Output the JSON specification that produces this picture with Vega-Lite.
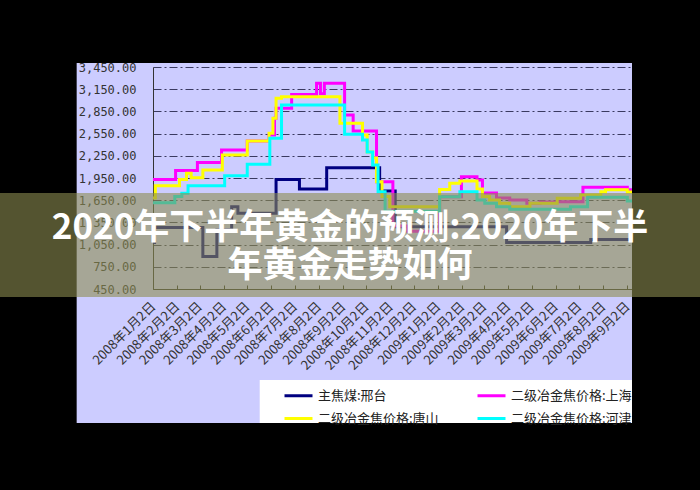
{
  "$schema": "https://vega.github.io/schema/vega-lite/v6.json",
  "width": 479,
  "height": 222,
  "autosize": {"type": "none"},
  "padding": {"left": 153, "top": 67, "right": 68, "bottom": 201},
  "background": "#CCCCFF",
  "config": {"view": {"stroke": null}, "font": "Noto Sans CJK SC"},
  "datasets": {
    "prices": [
      {"date": "2008-01-02", "series": "主焦煤:邢台", "price": 1080},
      {"date": "2008-01-04", "series": "主焦煤:邢台", "price": 1280},
      {"date": "2008-03-06", "series": "主焦煤:邢台", "price": 890},
      {"date": "2008-03-24", "series": "主焦煤:邢台", "price": 1250},
      {"date": "2008-04-12", "series": "主焦煤:邢台", "price": 1560},
      {"date": "2008-04-20", "series": "主焦煤:邢台", "price": 1475},
      {"date": "2008-06-08", "series": "主焦煤:邢台", "price": 1930},
      {"date": "2008-07-08", "series": "主焦煤:邢台", "price": 1800},
      {"date": "2008-08-12", "series": "主焦煤:邢台", "price": 2090},
      {"date": "2008-10-19", "series": "主焦煤:邢台", "price": 1775},
      {"date": "2008-11-08", "series": "主焦煤:邢台", "price": 1290},
      {"date": "2009-03-31", "series": "主焦煤:邢台", "price": 1080},
      {"date": "2009-07-17", "series": "主焦煤:邢台", "price": 1120},
      {"date": "2009-09-08", "series": "主焦煤:邢台", "price": 1120},

      {"date": "2008-01-02", "series": "二级冶金焦价格:上海", "price": 1930},
      {"date": "2008-01-31", "series": "二级冶金焦价格:上海", "price": 2050},
      {"date": "2008-02-28", "series": "二级冶金焦价格:上海", "price": 2160},
      {"date": "2008-03-30", "series": "二级冶金焦价格:上海", "price": 2330},
      {"date": "2008-05-02", "series": "二级冶金焦价格:上海", "price": 2450},
      {"date": "2008-05-30", "series": "二级冶金焦价格:上海", "price": 2530},
      {"date": "2008-06-06", "series": "二级冶金焦价格:上海", "price": 2756},
      {"date": "2008-06-08", "series": "二级冶金焦价格:上海", "price": 2891},
      {"date": "2008-06-28", "series": "二级冶金焦价格:上海", "price": 3080},
      {"date": "2008-07-30", "series": "二级冶金焦价格:上海", "price": 3229},
      {"date": "2008-08-04", "series": "二级冶金焦价格:上海", "price": 3090},
      {"date": "2008-08-09", "series": "二级冶金焦价格:上海", "price": 3229},
      {"date": "2008-09-04", "series": "二级冶金焦价格:上海", "price": 2801},
      {"date": "2008-09-15", "series": "二级冶金焦价格:上海", "price": 2585},
      {"date": "2008-10-15", "series": "二级冶金焦价格:上海", "price": 1900},
      {"date": "2008-11-05", "series": "二级冶金焦价格:上海", "price": 1300},
      {"date": "2008-11-24", "series": "二级冶金焦价格:上海", "price": 1230},
      {"date": "2009-01-04", "series": "二级冶金焦价格:上海", "price": 1697},
      {"date": "2009-02-01", "series": "二级冶金焦价格:上海", "price": 1968},
      {"date": "2009-02-21", "series": "二级冶金焦价格:上海", "price": 1923},
      {"date": "2009-02-28", "series": "二级冶金焦价格:上海", "price": 1747},
      {"date": "2009-03-18", "series": "二级冶金焦价格:上海", "price": 1680},
      {"date": "2009-04-04", "series": "二级冶金焦价格:上海", "price": 1653},
      {"date": "2009-04-26", "series": "二级冶金焦价格:上海", "price": 1610},
      {"date": "2009-05-13", "series": "二级冶金焦价格:上海", "price": 1625},
      {"date": "2009-06-04", "series": "二级冶金焦价格:上海", "price": 1630},
      {"date": "2009-07-07", "series": "二级冶金焦价格:上海", "price": 1824},
      {"date": "2009-09-02", "series": "二级冶金焦价格:上海", "price": 1790},
      {"date": "2009-09-08", "series": "二级冶金焦价格:上海", "price": 1790},

      {"date": "2008-01-02", "series": "二级冶金焦价格:唐山", "price": 1680},
      {"date": "2008-01-05", "series": "二级冶金焦价格:唐山", "price": 1845},
      {"date": "2008-02-05", "series": "二级冶金焦价格:唐山", "price": 1930},
      {"date": "2008-02-14", "series": "二级冶金焦价格:唐山", "price": 2013},
      {"date": "2008-02-20", "series": "二级冶金焦价格:唐山", "price": 1954},
      {"date": "2008-03-06", "series": "二级冶金焦价格:唐山", "price": 2058},
      {"date": "2008-03-31", "series": "二级冶金焦价格:唐山", "price": 2260},
      {"date": "2008-05-02", "series": "二级冶金焦价格:唐山", "price": 2450},
      {"date": "2008-05-30", "series": "二级冶金焦价格:唐山", "price": 2554},
      {"date": "2008-06-04", "series": "二级冶金焦价格:唐山", "price": 2757},
      {"date": "2008-06-08", "series": "二级冶金焦价格:唐山", "price": 3027},
      {"date": "2008-06-15", "series": "二级冶金焦价格:唐山", "price": 3048},
      {"date": "2008-08-29", "series": "二级冶金焦价格:唐山", "price": 2689},
      {"date": "2008-09-27", "series": "二级冶金焦价格:唐山", "price": 2530},
      {"date": "2008-10-03", "series": "二级冶金焦价格:唐山", "price": 2300},
      {"date": "2008-10-10", "series": "二级冶金焦价格:唐山", "price": 2220},
      {"date": "2008-10-15", "series": "二级冶金焦价格:唐山", "price": 1900},
      {"date": "2008-10-22", "series": "二级冶金焦价格:唐山", "price": 1700},
      {"date": "2008-11-01", "series": "二级冶金焦价格:唐山", "price": 1560},
      {"date": "2009-01-04", "series": "二级冶金焦价格:唐山", "price": 1795},
      {"date": "2009-01-17", "series": "二级冶金焦价格:唐山", "price": 1878},
      {"date": "2009-01-30", "series": "二级冶金焦价格:唐山", "price": 1910},
      {"date": "2009-02-21", "series": "二级冶金焦价格:唐山", "price": 1800},
      {"date": "2009-02-28", "series": "二级冶金焦价格:唐山", "price": 1700},
      {"date": "2009-03-09", "series": "二级冶金焦价格:唐山", "price": 1653},
      {"date": "2009-03-22", "series": "二级冶金焦价格:唐山", "price": 1610},
      {"date": "2009-04-04", "series": "二级冶金焦价格:唐山", "price": 1563},
      {"date": "2009-04-30", "series": "二级冶金焦价格:唐山", "price": 1610},
      {"date": "2009-06-04", "series": "二级冶金焦价格:唐山", "price": 1676},
      {"date": "2009-07-04", "series": "二级冶金焦价格:唐山", "price": 1720},
      {"date": "2009-07-30", "series": "二级冶金焦价格:唐山", "price": 1765},
      {"date": "2009-08-05", "series": "二级冶金焦价格:唐山", "price": 1790},
      {"date": "2009-09-02", "series": "二级冶金焦价格:唐山", "price": 1760},
      {"date": "2009-09-08", "series": "二级冶金焦价格:唐山", "price": 1760},

      {"date": "2008-01-02", "series": "二级冶金焦价格:河津", "price": 1616},
      {"date": "2008-01-30", "series": "二级冶金焦价格:河津", "price": 1700},
      {"date": "2008-02-08", "series": "二级冶金焦价格:河津", "price": 1745},
      {"date": "2008-02-16", "series": "二级冶金焦价格:河津", "price": 1845},
      {"date": "2008-04-03", "series": "二级冶金焦价格:河津", "price": 1980},
      {"date": "2008-05-02", "series": "二级冶金焦价格:河津", "price": 2135},
      {"date": "2008-05-31", "series": "二级冶金焦价格:河津", "price": 2486},
      {"date": "2008-06-15", "series": "二级冶金焦价格:河津", "price": 2936},
      {"date": "2008-09-04", "series": "二级冶金焦价格:河津", "price": 2540},
      {"date": "2008-09-27", "series": "二级冶金焦价格:河津", "price": 2463},
      {"date": "2008-10-03", "series": "二级冶金焦价格:河津", "price": 2300},
      {"date": "2008-10-10", "series": "二级冶金焦价格:河津", "price": 2125},
      {"date": "2008-10-17", "series": "二级冶金焦价格:河津", "price": 1765},
      {"date": "2008-10-26", "series": "二级冶金焦价格:河津", "price": 1500},
      {"date": "2009-01-04", "series": "二级冶金焦价格:河津", "price": 1697},
      {"date": "2009-01-30", "series": "二级冶金焦价格:河津", "price": 1765},
      {"date": "2009-02-21", "series": "二级冶金焦价格:河津", "price": 1653},
      {"date": "2009-03-03", "series": "二级冶金焦价格:河津", "price": 1610},
      {"date": "2009-03-18", "series": "二级冶金焦价格:河津", "price": 1560},
      {"date": "2009-04-04", "series": "二级冶金焦价格:河津", "price": 1527},
      {"date": "2009-06-21", "series": "二级冶金焦价格:河津", "price": 1563},
      {"date": "2009-07-13", "series": "二级冶金焦价格:河津", "price": 1690},
      {"date": "2009-09-02", "series": "二级冶金焦价格:河津", "price": 1640},
      {"date": "2009-09-08", "series": "二级冶金焦价格:河津", "price": 1640}
    ]
  },
  "layer": [
    {
      "data": {"name": "prices"},
      "mark": {"type": "line", "interpolate": "step-after", "strokeWidth": 3},
      "encoding": {
        "x": {
          "field": "date",
          "type": "temporal",
          "scale": {
            "type": "utc",
            "domain": [
              {"year": 2008, "month": 1, "date": 2, "utc": true},
              {"year": 2009, "month": 9, "date": 8, "utc": true}
            ]
          },
          "axis": {
            "title": null,
            "grid": false,
            "tickCount": 30,
            "values": [
              {"year": 2008, "month": 1, "date": 2, "utc": true},
              {"year": 2008, "month": 2, "date": 2, "utc": true},
              {"year": 2008, "month": 3, "date": 2, "utc": true},
              {"year": 2008, "month": 4, "date": 2, "utc": true},
              {"year": 2008, "month": 5, "date": 2, "utc": true},
              {"year": 2008, "month": 6, "date": 2, "utc": true},
              {"year": 2008, "month": 7, "date": 2, "utc": true},
              {"year": 2008, "month": 8, "date": 2, "utc": true},
              {"year": 2008, "month": 9, "date": 2, "utc": true},
              {"year": 2008, "month": 10, "date": 2, "utc": true},
              {"year": 2008, "month": 11, "date": 2, "utc": true},
              {"year": 2008, "month": 12, "date": 2, "utc": true},
              {"year": 2009, "month": 1, "date": 2, "utc": true},
              {"year": 2009, "month": 2, "date": 2, "utc": true},
              {"year": 2009, "month": 3, "date": 2, "utc": true},
              {"year": 2009, "month": 4, "date": 2, "utc": true},
              {"year": 2009, "month": 5, "date": 2, "utc": true},
              {"year": 2009, "month": 6, "date": 2, "utc": true},
              {"year": 2009, "month": 7, "date": 2, "utc": true},
              {"year": 2009, "month": 8, "date": 2, "utc": true},
              {"year": 2009, "month": 9, "date": 2, "utc": true}
            ],
            "labelExpr": "utcFormat(datum.value, '%Y年%-m月%-d日')",
            "labelAngle": -45,
            "labelAlign": "right",
            "labelBaseline": "middle",
            "labelFont": "Noto Sans CJK SC",
            "labelFontSize": 13,
            "labelColor": "#333333",
            "labelPadding": 19,
            "labelOverlap": false,
            "labelBound": false,
            "labelFlush": false,
            "tickSize": -4,
            "tickColor": "#333333",
            "domainColor": "#333333",
            "domainWidth": 1
          }
        },
        "y": {
          "field": "price",
          "type": "quantitative",
          "scale": {"domain": [450, 3450], "nice": false, "zero": false},
          "axis": {
            "title": null,
            "tickCount": 20,
            "values": [450, 750, 1050, 1350, 1650, 1950, 2250, 2550, 2850, 3150, 3450],
            "format": ",.2f",
            "ticks": false,
            "tickSize": 0,
            "labelAlign": "right",
            "labelPadding": 17,
            "labelFont": "DejaVu Sans Mono",
            "labelFontSize": 12,
            "labelColor": "#333333",
            "labelOverlap": false,
            "labelFlush": false,
            "grid": true,
            "gridColor": "#3a3a60",
            "gridDash": [8, 3, 2, 3],
            "gridWidth": 1,
            "domainColor": "#333333",
            "domainWidth": 1
          }
        },
        "color": {
          "field": "series",
          "type": "nominal",
          "scale": {
            "domain": ["主焦煤:邢台", "二级冶金焦价格:上海", "二级冶金焦价格:唐山", "二级冶金焦价格:河津"],
            "range": ["#000080", "#FF00FF", "#FFFF00", "#00FFFF"]
          },
          "legend": {
            "title": null,
            "orient": "none",
            "direction": "horizontal",
            "legendX": 130,
            "legendY": 313,
            "columns": 2,
            "columnPadding": 32,
            "rowPadding": -7,
            "padding": 0,
            "symbolType": "stroke",
            "symbolSize": 784,
            "symbolStrokeWidth": 3,
            "labelFont": "Noto Sans CJK SC",
            "labelFontSize": 13,
            "labelColor": "#222222",
            "labelOffset": 4,
            "labelLimit": 0
          }
        }
      }
    },
    {
      "data": {"values": [{}]},
      "mark": {"type": "rect", "color": "#000000", "clip": false},
      "encoding": {
        "x": {"datum": {"year": 2006, "month": 1, "date": 1, "utc": true}, "type": "temporal"},
        "x2": {"datum": {"year": 2011, "month": 1, "date": 1, "utc": true}},
        "y": {"datum": 3504, "type": "quantitative"},
        "y2": {"datum": 9000}
      }
    },
    {
      "data": {"values": [{}]},
      "mark": {"type": "rect", "color": "#000000", "clip": false},
      "encoding": {
        "x": {"datum": {"year": 2006, "month": 1, "date": 1, "utc": true}, "type": "temporal"},
        "x2": {"datum": {"year": 2011, "month": 1, "date": 1, "utc": true}},
        "y": {"datum": -1361, "type": "quantitative"},
        "y2": {"datum": -9000}
      }
    },
    {
      "data": {"values": [{}]},
      "mark": {"type": "rect", "color": "#000000", "clip": false},
      "encoding": {
        "x": {"datum": {"year": 2006, "month": 1, "date": 1, "utc": true}, "type": "temporal"},
        "x2": {"datum": {"year": 2007, "month": 9, "date": 26, "utc": true}},
        "y": {"datum": -9000, "type": "quantitative"},
        "y2": {"datum": 9000}
      }
    },
    {
      "data": {"values": [{}]},
      "mark": {"type": "rect", "color": "#000000", "clip": false},
      "encoding": {
        "x": {"datum": {"year": 2009, "month": 9, "date": 8, "utc": true}, "type": "temporal"},
        "x2": {"datum": {"year": 2011, "month": 1, "date": 1, "utc": true}},
        "y": {"datum": -9000, "type": "quantitative"},
        "y2": {"datum": 9000}
      }
    },
    {
      "data": {"values": [{}]},
      "mark": {"type": "rect", "color": "#FFFFFF", "clip": false},
      "encoding": {
        "x": {"datum": {"year": 2008, "month": 5, "date": 18, "utc": true}, "type": "temporal"},
        "x2": {"datum": {"year": 2009, "month": 9, "date": 8, "utc": true}},
        "y": {"datum": -780, "type": "quantitative"},
        "y2": {"datum": -1361}
      }
    },
    {
      "data": {"values": [{}]},
      "mark": {"type": "rect", "color": "#8C8C50", "opacity": 0.6, "clip": false},
      "encoding": {
        "x": {"datum": {"year": 2006, "month": 1, "date": 1, "utc": true}, "type": "temporal"},
        "x2": {"datum": {"year": 2011, "month": 1, "date": 1, "utc": true}},
        "y": {"datum": 1747, "type": "quantitative"},
        "y2": {"datum": 342}
      }
    },
    {
      "data": {"values": [{}]},
      "mark": {
        "type": "text",
        "text": ["2020年下半年黄金的预测:2020年下半", "年黄金走势如何"],
        "font": "Noto Sans CJK SC",
        "fontSize": 35,
        "fontWeight": "bold",
        "color": "#FFFFFF",
        "align": "center",
        "baseline": "middle",
        "lineHeight": 38,
        "clip": false
      },
      "encoding": {
        "x": {"datum": {"year": 2008, "month": 9, "date": 11, "utc": true}, "type": "temporal"},
        "y": {"datum": 1274, "type": "quantitative"}
      }
    }
  ]
}
